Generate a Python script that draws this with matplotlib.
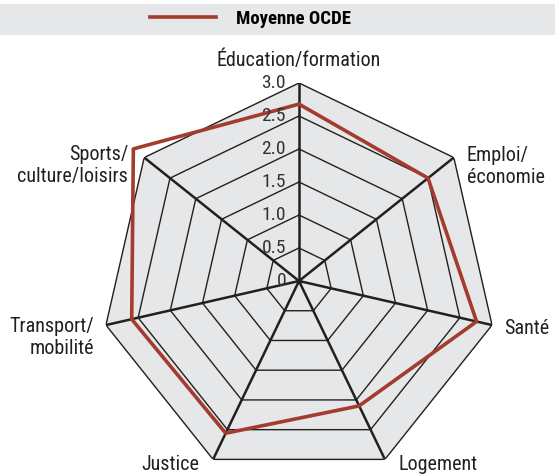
import numpy as np
import matplotlib
matplotlib.use("Agg")
import matplotlib.pyplot as plt

plt.rcParams['font.family'] = ['Roboto Condensed', 'DejaVu Sans']
plt.rcParams['font.stretch'] = 'condensed'

# data
categories = ["Éducation/formation", "Emploi/\néconomie", "Santé", "Logement",
              "Justice", "Transport/\nmobilité", "Sports/\nculture/loisirs"]
oecd_mean = [2.68, 2.5, 2.76, 2.1, 2.56, 2.6, 3.21]
ring_levels = [0.5, 1.0, 1.5, 2.0, 2.5, 3.0]
tick_labels = ["0", "0.5", "1.0", "1.5", "2.0", "2.5", "3.0"]

# label offsets from the outer vertex (pixels) and alignment
label_offsets = [(0, 23, "center"), (13, -9, "left"), (12, -3, "left"), (14, -5, "left"),
                 (-14, -5, "right"), (-12, -12, "right"), (-16, -8, "right")]

W, H = 555, 476
fig = plt.figure(figsize=(W / 100, H / 100), dpi=100)

# grey band behind legend
fig.patches.append(plt.Rectangle((0, (H - 35) / H), 1, 31 / H, transform=fig.transFigure,
                                 facecolor="#e6e7e8", edgecolor="none", zorder=0))

cx, cy, R = 299, 281, 198
ax = fig.add_axes([(cx - R) / W, (H - cy - R) / H, 2 * R / W, 2 * R / H], projection="polar")
ax.set_theta_offset(np.pi / 2)
ax.set_theta_direction(-1)
ax.set_ylim(0, 3)
ax.axis("off")

n = len(categories)
angles = np.linspace(0, 2 * np.pi, n, endpoint=False)
closed = np.append(angles, angles[0])

# background heptagon
ax.fill(closed, [3.0] * (n + 1), color="#e6e7e8", zorder=0)
for lv in ring_levels:
    ax.plot(closed, [lv] * (n + 1), color="#231f20", lw=1.0, zorder=1)
for a in angles:
    ax.plot([a, a], [0, 3.0], color="#231f20", lw=1.8, zorder=2)
ax.plot([0], [0], "o", color="#231f20", ms=3, zorder=2)

line, = ax.plot(closed, oecd_mean + oecd_mean[:1], color="#a33b2e", lw=2.6, zorder=3,
                clip_on=False)

# radial tick labels
for lv, lab in zip([0] + ring_levels, tick_labels):
    ax.annotate(lab, xy=(0, lv), xytext=(-13, 0), textcoords="offset pixels",
                ha="right", va="center", fontsize=14, color="#333333", annotation_clip=False)

# category labels
for a, lab, (dx, dy, ha) in zip(angles, categories, label_offsets):
    ax.annotate(lab, xy=(a, 3.0), xytext=(dx, dy), textcoords="offset pixels",
                ha=ha, va="center", fontsize=14.5, color="#231f20", linespacing=1.2,
                multialignment=ha if ha != "center" else "center", annotation_clip=False)

fig.legend([line], ["Moyenne OCDE"], loc="center", bbox_to_anchor=(0.452, 1 - 19 / H),
           frameon=False, handlelength=3.5, handletextpad=1.1,
           prop={"weight": "bold", "size": 13.5})

fig.savefig("out.png", dpi=100)
